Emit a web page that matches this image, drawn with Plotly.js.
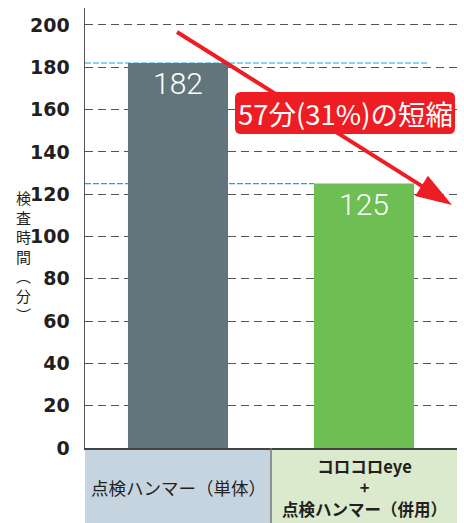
<!DOCTYPE html>
<html><head><meta charset="utf-8">
<script src="https://cdn.plot.ly/plotly-3.0.1.min.js"></script>
<style>body{margin:0;background:#fff}#chart{width:464px;height:523px}</style>
</head><body><div id="chart"></div>
<script>
// ---- data ----
const categories = ['点検ハンマー（単体）', 'コロコロeye＋点検ハンマー（併用）'];
const values = [182, 125];
const barColors = ['#62757d', '#6dbe53'];
const tickValues = [0, 20, 40, 60, 80, 100, 120, 140, 160, 180, 200];
const tickLabels = ['0', '20', '40', '60', '80', '100', '120', '140', '160', '180', '200'];
const yTitleChars = ['検', '査', '時', '間', '︵', '分', '︶'];
const calloutText = '57分(31%)の短縮';
const catLabel1Lines = ['点検ハンマー（単体）'];
const catLabel2Lines = ['コロコロeye', '+', '点検ハンマー（併用）'];

// ---- layout helpers (pixel -> paper) ----
const W = 464, H = 523;
const M = {l: 85, r: 7, t: 8, b: 75};
const PW = W - M.l - M.r, PH = H - M.t - M.b;
const X = px => (px - M.l) / PW;
const Y = py => (H - M.b - py) / PH;
const bargap = 0.462;
const barHalf = (1 - bargap) / 2;
const JP = '"Noto Sans CJK JP", "Noto Sans", sans-serif';
const RED = '#ee1d23';

const trace = {
  type: 'bar',
  x: categories,
  y: values,
  marker: {color: barColors, line: {width: 0}},
  text: values.map(String),
  textposition: 'inside',
  insidetextanchor: 'end',
  textangle: 0,
  textfont: {family: 'Roboto, "Noto Sans", sans-serif', size: 30, color: '#ffffff', weight: 300},
  hoverinfo: 'none',
  cliponaxis: false
};

// arrow geometry (pixels)
const a0 = [177, 32], a1 = [452, 205];
const dx = a1[0] - a0[0], dy = a1[1] - a0[1];
const len = Math.hypot(dx, dy);
const ux = dx / len, uy = dy / len, nx = -uy, ny = ux;
const headL = 36, headW = 12;
const bc = [a1[0] - headL * ux, a1[1] - headL * uy];
const c1 = [bc[0] + headW * nx, bc[1] + headW * ny];
const c2 = [bc[0] - headW * nx, bc[1] - headW * ny];
const P = p => X(p[0]) + ',' + Y(p[1]);

// rounded box path
function roundRect(x0, y0, x1, y1, r) {
  return 'M' + P([x0 + r, y0]) + ' L' + P([x1 - r, y0]) + ' Q' + P([x1, y0]) + ' ' + P([x1, y0 + r]) +
    ' L' + P([x1, y1 - r]) + ' Q' + P([x1, y1]) + ' ' + P([x1 - r, y1]) +
    ' L' + P([x0 + r, y1]) + ' Q' + P([x0, y1]) + ' ' + P([x0, y1 - r]) +
    ' L' + P([x0, y0 + r]) + ' Q' + P([x0, y0]) + ' ' + P([x0 + r, y0]) + ' Z';
}

const shapes = [
  {type: 'rect', xref: 'x', yref: 'paper', x0: -0.5, x1: 0.5, y0: Y(H), y1: 0,
   fillcolor: '#c6d4df', line: {width: 0}, layer: 'below'},
  {type: 'rect', xref: 'x', yref: 'paper', x0: 0.5, x1: 1.5, y0: Y(H), y1: 0,
   fillcolor: '#dbe9cc', line: {width: 0}, layer: 'below'},
  {type: 'line', xref: 'x', yref: 'paper', x0: 0.5, x1: 0.5, y0: Y(H), y1: 0,
   line: {color: '#777', width: 1.5}, layer: 'above'},
  {type: 'line', xref: 'x', yref: 'y', x0: -0.5, x1: 1.339, y0: values[0], y1: values[0],
   line: {color: '#12a9e6', width: 1.2, dash: '6px,2px'}, layer: 'between'},
  {type: 'line', xref: 'x', yref: 'y', x0: -0.5, x1: 1 - barHalf, y0: values[1], y1: values[1],
   line: {color: '#12a9e6', width: 1.2, dash: '6px,2px'}, layer: 'between'},
  {type: 'line', xref: 'paper', yref: 'paper', x0: X(a0[0]), y0: Y(a0[1]), x1: X(bc[0] + 2 * ux), y1: Y(bc[1] + 2 * uy),
   line: {color: RED, width: 4}, layer: 'above'},
  {type: 'path', xref: 'paper', yref: 'paper', path: 'M' + P(a1) + ' L' + P(c1) + ' L' + P(c2) + ' Z',
   fillcolor: RED, line: {width: 0}, layer: 'above'},
  {type: 'path', xref: 'paper', yref: 'paper', path: roundRect(235, 92, 455, 134, 6),
   fillcolor: RED, line: {width: 0}, layer: 'above'}
];

const annotations = [];
annotations.push({xref: 'paper', yref: 'paper', x: X(345), y: Y(113), text: calloutText, showarrow: false,
  xanchor: 'center', yanchor: 'middle', font: {family: JP, size: 27.5, color: '#ffffff', weight: 400}});
annotations.push({xref: 'paper', yref: 'paper', x: X(23), y: Y(256), text: yTitleChars.join('<br>'),
  showarrow: false, xanchor: 'center', yanchor: 'middle', borderpad: 0,
  font: {family: JP, size: 15, color: '#231f20'}});
annotations.push({xref: 'x', yref: 'paper', x: 0, y: Y(488),
  text: catLabel1Lines.join('<br>'), showarrow: false, xanchor: 'center', yanchor: 'middle',
  font: {family: JP, size: 17.5, color: '#231f20'}});
annotations.push({xref: 'x', yref: 'paper', x: 1, y: Y(487.5),
  text: catLabel2Lines.join('<br>'),
  showarrow: false, xanchor: 'center', yanchor: 'middle', borderpad: 0,
  font: {family: JP, size: 16.5, color: '#231f20', weight: 'bold'}});

const layout = {
  width: W, height: H,
  margin: M,
  paper_bgcolor: '#ffffff', plot_bgcolor: 'rgba(0,0,0,0)',
  showlegend: false,
  bargap: bargap,
  xaxis: {type: 'category', range: [-0.5, 1.5], showticklabels: false, showgrid: false, zeroline: false,
    showline: true, linecolor: '#444', linewidth: 1.5, ticks: '', fixedrange: true},
  yaxis: {range: [0, 208], tickvals: tickValues, ticktext: tickLabels, showgrid: true, gridcolor: '#555',
    gridwidth: 1, griddash: '8px,5px', zeroline: false, showline: true, linecolor: '#555', linewidth: 1.5,
    ticks: '', ticklabelstandoff: 10,
    tickfont: {family: '"DejaVu Sans", sans-serif', size: 19, color: '#231f20', weight: 'bold'}, fixedrange: true},
  shapes: shapes,
  annotations: annotations
};

Plotly.newPlot('chart', [trace], layout, {displayModeBar: false, staticPlot: true});
</script>
</body></html>
